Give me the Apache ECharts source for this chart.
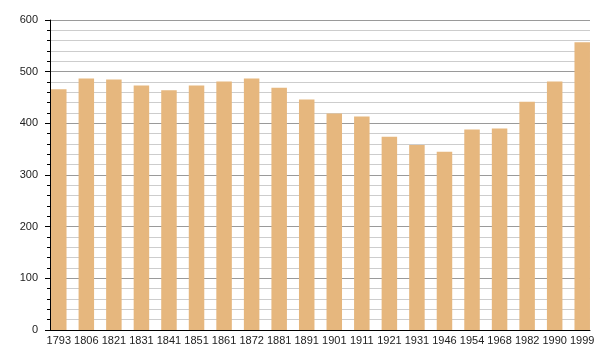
<!DOCTYPE html>
<html>
<head>
<meta charset="utf-8">
<script src="https://cdn.jsdelivr.net/npm/echarts@6/dist/echarts.min.js"></script>
<style>html,body{margin:0;padding:0;background:#fff}#c{width:600px;height:360px}</style>
</head>
<body>
<div id="c"></div>
<script>
const categories = ['1793','1806','1821','1831','1841','1851','1861','1872','1881','1891','1901','1911','1921','1931','1946','1954','1968','1982','1990','1999'];
const population = [466,487,485,473,464,473,481,487,469,446,419,413,374,358,345,388,390,442,481,557];
const yTicks = {min: 0, max: 600, interval: 100};

const chart = echarts.init(document.getElementById('c'), null, {renderer: 'canvas'});
const font = 'Liberation Sans, Arial, sans-serif';
chart.setOption({
  animation: false,
  backgroundColor: '#ffffff',
  grid: [
    {left: 50, top: 20, width: 540, height: 310, containLabel: false},
    {left: 45, top: 20, width: 551, height: 310, containLabel: false}
  ],
  xAxis: [
    {gridIndex: 0, type: 'value', min: 0, max: 1,
     axisLine: {show: true, lineStyle: {color: '#000', width: 1}},
     axisTick: {show: false}, axisLabel: {show: false}, splitLine: {show: false}},
    {gridIndex: 1, type: 'category', data: categories,
     axisLine: {show: false}, axisTick: {show: false},
     axisLabel: {color: '#222', fontSize: 11, fontFamily: font, margin: 5, interval: 0}}
  ],
  yAxis: [
    {gridIndex: 0, type: 'value', min: yTicks.min, max: yTicks.max, interval: yTicks.interval,
     axisLine: {show: true, lineStyle: {color: '#000', width: 1}},
     axisTick: {show: true, length: 5, lineStyle: {color: '#000'}},
     minorTick: {show: true, splitNumber: 5, length: 3, lineStyle: {color: '#000'}},
     axisLabel: {color: '#222', fontSize: 11, fontFamily: font, margin: 12},
     splitLine: {show: true, lineStyle: {color: '#9a9a9a', width: 1}},
     minorSplitLine: {show: true, lineStyle: {color: '#cdcdcd', width: 1}}},
    {gridIndex: 1, type: 'value', min: yTicks.min, max: yTicks.max, show: false,
     splitLine: {show: false}}
  ],
  series: [
    {type: 'bar', xAxisIndex: 1, yAxisIndex: 1, data: population,
     barWidth: 15.5, itemStyle: {color: '#e6b77e'}, z: 5}
  ]
});
</script>
</body>
</html>
